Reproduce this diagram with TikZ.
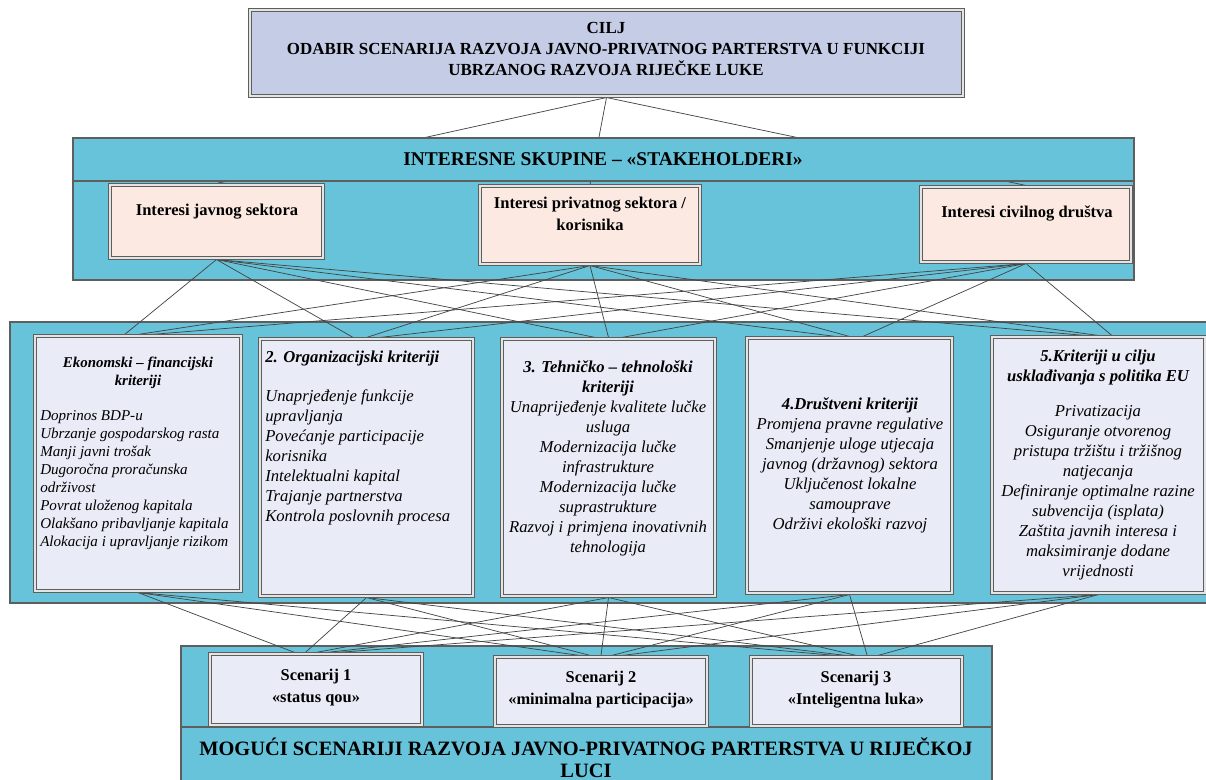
\documentclass[tikz,border=0pt]{standalone}
\usepackage{fontspec}
\setmainfont{Liberation Serif}
\usetikzlibrary{positioning, fit, calc}
\definecolor{clrPanel}{HTML}{67C3D9}
\definecolor{clrGoal} {HTML}{C5CDE6}
\definecolor{clrPeach}{HTML}{FCEAE2}
\definecolor{clrLav}  {HTML}{E9ECF6}
\definecolor{clrEdge} {HTML}{5E5E5E}
\definecolor{clrGap}  {HTML}{E4E4E4}
\definecolor{clrWire} {HTML}{454545}
\pgfdeclarelayer{bg}
\pgfdeclarelayer{wires}
\pgfsetlayers{bg,wires,main}

\begin{document}
\begin{tikzpicture}[x=0.75pt, y=-0.75pt,
  panel/.style={draw=clrEdge, fill=clrPanel, line width=0.9pt, inner sep=0pt},
  box/.style={draw=clrEdge, line width=2.3pt, inner sep=0pt,
              postaction={draw=clrGap, line width=1.1pt}},
  wire/.style={draw=clrWire, line width=0.55pt},
  head/.style={inner sep=0pt, align=center, font=\fontsize{14.6}{16.5}\selectfont\bfseries},
  lbl/.style={inner sep=0pt, align=center, font=\fontsize{12.4}{16.5}\selectfont\bfseries},
  crit/.style={inner sep=0pt, align=center, font=\fontsize{12.5}{15}\selectfont\itshape},
]
\useasboundingbox (0,0) rectangle (1206,780);

% containers
\begin{pgfonlayer}{bg}
\node[panel, fit={(73,138) (1134,280)}] (stake) {};
\node[panel, fit={(10,322) (1215,603)}] (kpanel) {};
\node[panel, fit={(181,646) (992,790)}] (spanel) {};
\node[panel, fit={(181,727) (992,790)}] (sband) {};
\end{pgfonlayer}

% goal
\node[box, fill=clrGoal, fit={(250,10) (963,96)}] (cilj) {};
\node[head, font=\fontsize{12.7}{16}\selectfont\bfseries] (ciljtxt) at (606,49)
  {CILJ\\ODABIR SCENARIJA RAZVOJA JAVNO-PRIVATNOG PARTERSTVA U FUNKCIJI\\UBRZANOG RAZVOJA RIJEČKE LUKE};

% stakeholders
\node[panel, fit={(73,138) (1134,181)}] (hdr) {};
\node[head] (hdrtxt) at (603,159) {INTERESNE SKUPINE – «STAKEHOLDERI»};
\node[box, fill=clrPeach, fit={(110,185) (323,258)}] (s1) {};
\node[box, fill=clrPeach, fit={(480,186) (700,264)}] (s2) {};
\node[box, fill=clrPeach, fit={(921,187) (1131,262)}] (s3) {};
\node[lbl] (s1txt) at (217,212) {Interesi javnog sektora};
\node[lbl] (s2txt) at (590,214) {Interesi privatnog sektora /\\korisnika};
\node[lbl] (s3txt) at (1027,213) {Interesi civilnog društva};

% criteria
\node[box, fill=clrLav, fit={(35,336) (241,591)}] (c1) {};
\node[box, fill=clrLav, fit={(260,339) (473,596)}] (c2) {};
\node[box, fill=clrLav, fit={(502,339) (715,596)}] (c3) {};
\node[box, fill=clrLav, fit={(747,338) (952,593)}] (c4) {};
\node[box, fill=clrLav, fit={(992,337) (1205,593)}] (c5) {};

\node[crit, font=\fontsize{11.2}{13.5}\selectfont\itshape\bfseries] (c1h) at (138,373)
  {Ekonomski – financijski\\kriteriji};
\node[crit, font=\fontsize{11.3}{13.5}\selectfont\itshape, align=left, anchor=west] (c1t) at (40,480.5)
  {Doprinos BDP-u\\Ubrzanje gospodarskog rasta\\Manji javni trošak\\Dugoročna proračunska\\održivost\\Povrat uloženog kapitala\\Olakšano pribavljanje kapitala\\Alokacija i upravljanje rizikom};
\node[crit, font=\fontsize{12.5}{15}\selectfont\itshape\bfseries, anchor=west] (c2h) at (265,358)
  {2. Organizacijski kriteriji};
\node[crit, align=left, anchor=west] (c2t) at (265,457.5)
  {Unaprjeđenje funkcije\\upravljanja\\Povećanje participacije\\korisnika\\Intelektualni kapital\\Trajanje partnerstva\\Kontrola poslovnih procesa};
\node[crit] (c3t) at (608,458)
  {\textbf{3. Tehničko – tehnološki}\\\textbf{kriteriji}\\Unaprijeđenje kvalitete lučke\\usluga\\Modernizacija lučke\\infrastrukture\\Modernizacija lučke\\suprastrukture\\Razvoj i primjena inovativnih\\tehnologija};
\node[crit] (c4t) at (850,465)
  {\textbf{4.Društveni kriteriji}\\Promjena pravne regulative\\Smanjenje uloge utjecaja\\javnog (državnog) sektora\\Uključenost lokalne\\samouprave\\Održivi ekološki razvoj};
\node[crit, font=\fontsize{12.5}{15}\selectfont\itshape\bfseries] (c5h) at (1098,367)
  {5.Kriteriji u cilju\\usklađivanja s politika EU};
\node[crit] (c5t) at (1098,493)
  {Privatizacija\\Osiguranje otvorenog\\pristupa tržištu i tržišnog\\natjecanja\\Definiranje optimalne razine\\subvencija (isplata)\\Zaštita javnih interesa i\\maksimiranje dodane\\vrijednosti};

% scenarios
\node[box, fill=clrLav, fit={(210,654) (422,725)}] (sc1) {};
\node[box, fill=clrLav, fit={(495,657) (707,726)}] (sc2) {};
\node[box, fill=clrLav, fit={(751,657) (962,726)}] (sc3) {};
\node[lbl, font=\fontsize{12.3}{16.5}\selectfont\bfseries] (sc1txt) at (316,688) {Scenarij 1\\«status qou»};
\node[lbl, font=\fontsize{12.3}{16.5}\selectfont\bfseries] (sc2txt) at (601,690) {Scenarij 2\\«minimalna participacija»};
\node[lbl, font=\fontsize{12.3}{16.5}\selectfont\bfseries] (sc3txt) at (856,690) {Scenarij 3\\«Inteligentna luka»};
\node[head, font=\fontsize{15.3}{16.5}\selectfont\bfseries] (sbandtxt) at (586,758)
  {MOGUĆI SCENARIJI RAZVOJA JAVNO-PRIVATNOG PARTERSTVA U RIJEČKOJ\\LUCI};

% connectors
\begin{pgfonlayer}{wires}
\foreach \s in {1,2,3}
  \draw[wire] (cilj.south) -- (s\s.north);
\foreach \s in {1,2,3}
  \foreach \c in {1,...,5}
    \draw[wire] (s\s.south) -- ([xshift={(\s-2)*10pt}]c\c.north);
\foreach \c in {1,...,5}
  \foreach \k in {1,2,3}
    \draw[wire] (c\c.south) -- ([xshift={(\c-3)*8pt}]sc\k.north);
\end{pgfonlayer}
\end{tikzpicture}
\end{document}
